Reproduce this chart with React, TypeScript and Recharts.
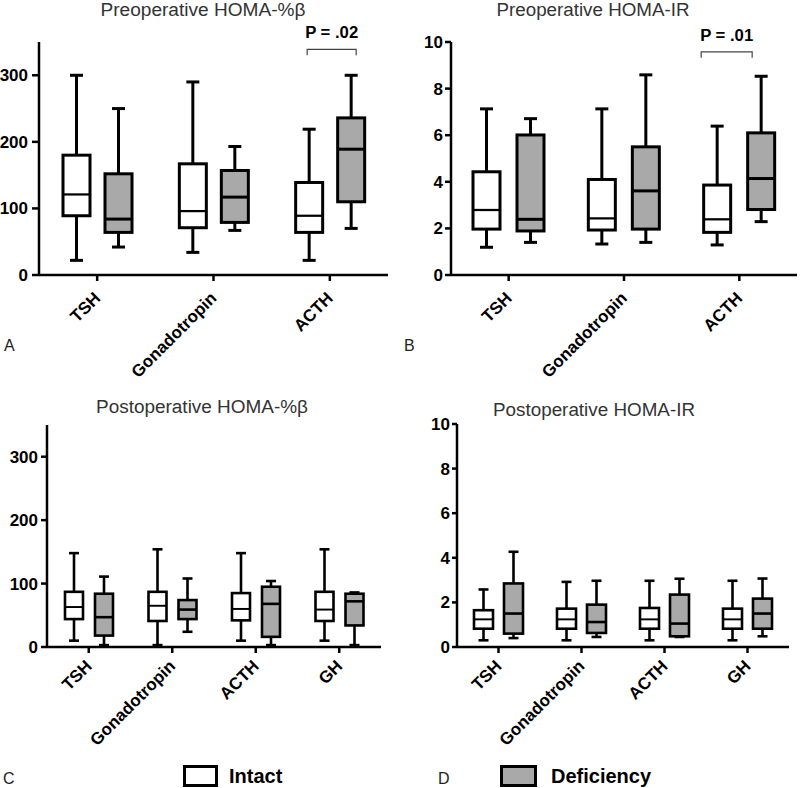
import React from "react";
import { ComposedChart, Bar, XAxis, YAxis } from "recharts";

const FONT = '"Liberation Sans", Arial, Helvetica, sans-serif';
const GREY = "#a9a9a9";

const preCategories = ["TSH", "Gonadotropin", "ACTH"];
const postCategories = ["TSH", "Gonadotropin", "ACTH", "GH"];

// box stats per category: [min, q1, median, q3, max]
const preBetaIntact = [[22, 89, 121, 180, 300], [34, 71, 96, 167, 290], [22, 64, 89, 139, 219]];
const preBetaDeficiency = [[42, 64, 84, 152, 250], [67, 79, 117, 157, 193], [70, 110, 189, 236, 300]];
const preIrIntact = [[1.19, 1.97, 2.79, 4.43, 7.13], [1.33, 1.93, 2.43, 4.1, 7.13], [1.29, 1.83, 2.39, 3.86, 6.39]];
const preIrDeficiency = [[1.4, 1.89, 2.39, 6.01, 6.71], [1.4, 1.97, 3.61, 5.5, 8.59], [2.29, 2.81, 4.14, 6.1, 8.53]];
const postBetaIntact = [[10, 44, 63, 87, 148], [3, 41, 65, 87, 154], [10, 42, 60, 85, 148], [10, 41, 59, 87, 154]];
const postBetaDeficiency = [[3, 18, 47, 84, 111], [24, 44, 59, 74, 108], [3, 16, 68, 95, 104], [3, 34, 72, 84, 86]];
const postIrIntact = [[0.3, 0.82, 1.24, 1.65, 2.58], [0.3, 0.82, 1.24, 1.72, 2.92], [0.3, 0.82, 1.24, 1.75, 2.97], [0.3, 0.82, 1.24, 1.72, 2.97]];
const postIrDeficiency = [[0.4, 0.6, 1.5, 2.85, 4.27], [0.45, 0.63, 1.12, 1.9, 2.97], [0.45, 0.48, 1.05, 2.35, 3.06], [0.48, 0.82, 1.5, 2.17, 3.07]];

const betaTicks = [0, 100, 200, 300];
const irTicks = [0, 2, 4, 6, 8, 10];

const preBetaSig = { category: "ACTH", value: 339, label: "P = .02" };
const preIrSig = { category: "ACTH", value: 9.58, label: "P = .01" };

type Sig = { category: string; value: number; label: string };
type Row = { name: string; intact: number[]; deficiency: number[] };

const buildRows = (cats: string[], intact: number[][], deficiency: number[][]): Row[] =>
  cats.map((name, i) => ({ name, intact: intact[i], deficiency: deficiency[i] }));

const rangeOf = (key: "intact" | "deficiency") => (d: Row) => [d[key][0], d[key][4]];

type Cfg = {
  barSize: number;
  gap: number;
  cap: number;
  stroke: number;
  sig?: Sig;
  bracket?: [number, number];
};

function makeBoxShape(key: "intact" | "deficiency", cfg: Cfg) {
  return (props: any) => {
    const { x, y, width, height, payload } = props;
    const [min, q1, med, q3, max] = payload[key] as number[];
    const top = Math.min(y, y + height);
    const h = Math.abs(height);
    // linear map back from the bar's own pixel range
    const py = (v: number) => top + ((max - v) / (max - min)) * h;
    const cx = x + width / 2;
    const sw = cfg.stroke;
    const fill = key === "intact" ? "#fff" : GREY;
    let bracket = null;
    if (key === "deficiency" && cfg.sig && payload.name === cfg.sig.category) {
      const intactCx = cx - (cfg.barSize + cfg.gap);
      const [l, r] = cfg.bracket || [0, 0];
      const bx1 = intactCx + l;
      const bx2 = cx + r;
      const by = py(cfg.sig.value);
      bracket = (
        <g>
          <path d={`M${bx1},${by + 6} V${by} H${bx2} V${by + 6}`} fill="none" stroke="#444" strokeWidth={1.2} />
          <text x={(bx1 + bx2) / 2} y={by - 11} textAnchor="middle" fontSize={16} fontWeight={700} fontFamily={FONT} fill="#000" textLength={53} lengthAdjust="spacingAndGlyphs">
            {cfg.sig.label}
          </text>
        </g>
      );
    }
    return (
      <g>
        <line x1={cx} x2={cx} y1={py(max)} y2={py(q3)} stroke="#000" strokeWidth={sw} />
        <line x1={cx} x2={cx} y1={py(q1)} y2={py(min)} stroke="#000" strokeWidth={sw} />
        <line x1={cx - cfg.cap / 2} x2={cx + cfg.cap / 2} y1={py(max)} y2={py(max)} stroke="#000" strokeWidth={sw} />
        <line x1={cx - cfg.cap / 2} x2={cx + cfg.cap / 2} y1={py(min)} y2={py(min)} stroke="#000" strokeWidth={sw} />
        <rect x={x} y={py(q3)} width={width} height={py(q1) - py(q3)} fill={fill} stroke="#000" strokeWidth={sw} />
        <line x1={x} x2={x + width} y1={py(med)} y2={py(med)} stroke="#000" strokeWidth={key === "intact" ? sw * 0.75 : sw} />
        {bracket}
      </g>
    );
  };
}

const makeXTick = (down: number) => (props: any) => {
  const { x, y, payload } = props;
  const ay = y + down;
  return (
    <text x={x} y={ay} dy="0.35em" transform={`rotate(-45 ${x} ${ay})`} textAnchor="end" fontSize={17} fontWeight={700} fontFamily={FONT} fill="#000">
      {payload.value}
    </text>
  );
};

type PanelProps = {
  rows: Row[];
  left: number;
  top: number;
  width: number;
  height: number;
  margin: { top: number; right: number; bottom: number; left: number };
  yWidth: number;
  xHeight: number;
  domain: [number, number];
  ticks: number[];
  yTickSize: number;
  yTickMargin: number;
  xDown: number;
  cfg: Cfg;
};

function Panel(p: PanelProps) {
  return (
    <div style={{ position: "absolute", left: p.left, top: p.top }}>
      <ComposedChart width={p.width} height={p.height} data={p.rows} margin={p.margin} barSize={p.cfg.barSize} barGap={p.cfg.gap}>
        <XAxis
          dataKey="name"
          height={p.xHeight}
          interval={0}
          tickSize={6}
          tickMargin={2}
          axisLine={{ stroke: "#000", strokeWidth: 2.5 }}
          tickLine={{ stroke: "#000", strokeWidth: 2.5 }}
          tick={makeXTick(p.xDown)}
        />
        <YAxis
          type="number"
          domain={p.domain}
          ticks={p.ticks}
          width={p.yWidth}
          tickSize={p.yTickSize}
          tickMargin={p.yTickMargin}
          axisLine={{ stroke: "#000", strokeWidth: 2.5 }}
          tickLine={{ stroke: "#000", strokeWidth: 2.5 }}
          tick={{ fill: "#000", fontSize: 17, fontWeight: 700, fontFamily: FONT }}
        />
        <Bar dataKey={rangeOf("intact")} isAnimationActive={false} shape={makeBoxShape("intact", p.cfg)} />
        <Bar dataKey={rangeOf("deficiency")} isAnimationActive={false} shape={makeBoxShape("deficiency", p.cfg)} />
      </ComposedChart>
    </div>
  );
}

export default function App() {
  const titleStyle = { fontSize: 18, fontFamily: FONT, fill: "#333", lengthAdjust: "spacingAndGlyphs" as const };
  const letterStyle = { fontSize: 16, fontFamily: FONT, fill: "#222" };
  return (
    <div style={{ position: "absolute", left: 0, top: 0, width: 800, height: 788, background: "#fff", overflow: "hidden", fontFamily: FONT }}>
      <Panel
        rows={buildRows(preCategories, preBetaIntact, preBetaDeficiency)}
        left={0} top={0} width={400} height={380}
        margin={{ top: 42, right: 12, bottom: 0, left: 0 }}
        yWidth={39} xHeight={105}
        domain={[0, 350]} ticks={betaTicks}
        yTickSize={7} yTickMargin={4} xDown={12}
        cfg={{ barSize: 27, gap: 15, cap: 13, stroke: 3, sig: preBetaSig, bracket: [-2, 5] }}
      />
      <Panel
        rows={buildRows(preCategories, preIrIntact, preIrDeficiency)}
        left={400} top={0} width={400} height={380}
        margin={{ top: 42, right: 3, bottom: 0, left: 0 }}
        yWidth={51} xHeight={105}
        domain={[0, 10]} ticks={irTicks}
        yTickSize={6} yTickMargin={2} xDown={12}
        cfg={{ barSize: 27, gap: 17, cap: 13, stroke: 3, sig: preIrSig, bracket: [-16, -9] }}
      />
      <Panel
        rows={buildRows(postCategories, postBetaIntact, postBetaDeficiency)}
        left={0} top={380} width={400} height={408}
        margin={{ top: 45, right: 19, bottom: 0, left: 0 }}
        yWidth={47} xHeight={141}
        domain={[0, 350]} ticks={betaTicks}
        yTickSize={6} yTickMargin={3} xDown={8}
        cfg={{ barSize: 18, gap: 12, cap: 10, stroke: 2.6 }}
      />
      <Panel
        rows={buildRows(postCategories, postIrIntact, postIrDeficiency)}
        left={400} top={380} width={400} height={408}
        margin={{ top: 44, right: 11, bottom: 0, left: 0 }}
        yWidth={57} xHeight={141}
        domain={[0, 10]} ticks={irTicks}
        yTickSize={5} yTickMargin={2} xDown={8}
        cfg={{ barSize: 19, gap: 11, cap: 10, stroke: 2.6 }}
      />
      <svg width={800} height={788} style={{ position: "absolute", left: 0, top: 0, pointerEvents: "none" }}>
        <text x={203} y={16} textAnchor="middle" textLength={205} {...titleStyle}>Preoperative HOMA-%β</text>
        <text x={593} y={16} textAnchor="middle" textLength={193} {...titleStyle}>Preoperative HOMA-IR</text>
        <text x={202} y={413} textAnchor="middle" textLength={212} {...titleStyle}>Postoperative HOMA-%β</text>
        <text x={594} y={416} textAnchor="middle" textLength={202} {...titleStyle}>Postoperative HOMA-IR</text>
        <text x={4} y={351} {...letterStyle}>A</text>
        <text x={404} y={351} {...letterStyle}>B</text>
        <text x={3} y={784} {...letterStyle}>C</text>
        <text x={438} y={784} {...letterStyle}>D</text>
        <rect x={184.5} y={766.5} width={32} height={19} fill="#fff" stroke="#000" strokeWidth={3} />
        <text x={229} y={783} fontSize={20} fontWeight={700} fontFamily={FONT} fill="#000">Intact</text>
        <rect x={501.5} y={766.5} width={34} height={19} fill={GREY} stroke="#000" strokeWidth={3} />
        <text x={551} y={783} fontSize={20} fontWeight={700} fontFamily={FONT} fill="#000">Deficiency</text>
      </svg>
    </div>
  );
}
